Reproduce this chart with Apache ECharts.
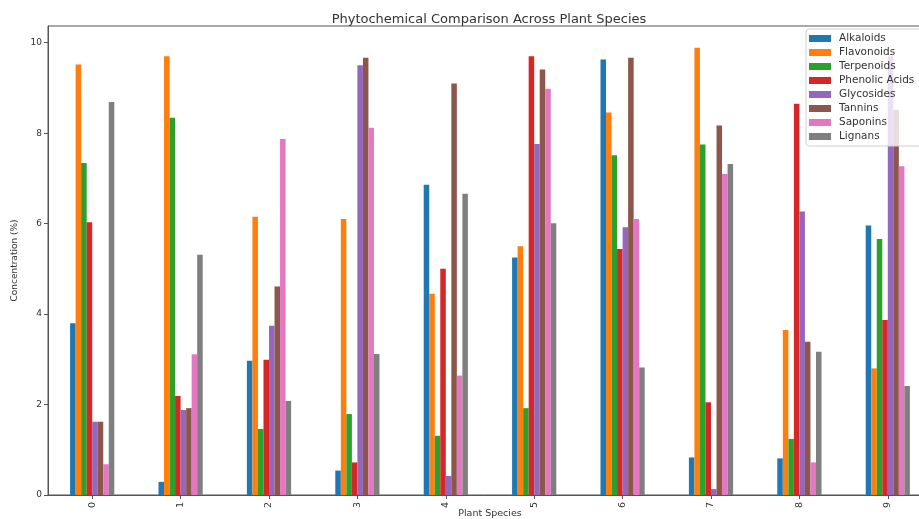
<!DOCTYPE html>
<html>
<head>
<meta charset="utf-8">
<script src="https://cdn.jsdelivr.net/npm/echarts@6/dist/echarts.min.js"></script>
<style>
  html, body { margin: 0; padding: 0; background: #fff; overflow: hidden; }
  #chart { width: 919px; height: 519px; }
</style>
</head>
<body>
<div id="chart"></div>
<script>
const species = ["0", "1", "2", "3", "4", "5", "6", "7", "8", "9"];
const yTicks = [0, 2, 4, 6, 8, 10];

const alkaloids     = [3.80, 0.29, 2.97, 0.54, 6.86, 5.25, 9.63, 0.83, 0.81, 5.96];
const flavonoids    = [9.52, 9.70, 6.15, 6.10, 4.45, 5.50, 8.46, 9.89, 3.65, 2.80];
const terpenoids    = [7.34, 8.34, 1.46, 1.79, 1.31, 1.92, 7.51, 7.75, 1.24, 5.66];
const phenolicAcids = [6.03, 2.19, 2.99, 0.72, 5.00, 9.70, 5.44, 2.05, 8.65, 3.87];
const glycosides    = [1.62, 1.88, 3.74, 9.50, 0.42, 7.76, 5.92, 0.13, 6.27, 9.70];
const tannins       = [1.62, 1.92, 4.61, 9.67, 9.10, 9.41, 9.67, 8.17, 3.39, 8.52];
const saponins      = [0.68, 3.11, 7.87, 8.12, 2.64, 8.98, 6.10, 7.10, 0.72, 7.27];
const lignans       = [8.69, 5.31, 2.08, 3.12, 6.66, 6.01, 2.82, 7.32, 3.17, 2.41];

const seriesNames = ["Alkaloids", "Flavonoids", "Terpenoids", "Phenolic Acids", "Glycosides", "Tannins", "Saponins", "Lignans"];
const seriesData = [alkaloids, flavonoids, terpenoids, phenolicAcids, glycosides, tannins, saponins, lignans];
const colors = ["#1f77b4", "#ff7f0e", "#2ca02c", "#d62728", "#9467bd", "#8c564b", "#e377c2", "#7f7f7f"];

const font = "DejaVu Sans";
const chart = echarts.init(document.getElementById("chart"));

const option = {
  animation: false,
  color: colors,
  textStyle: { fontFamily: font },
  title: {
    text: "Phytochemical Comparison Across Plant Species",
    left: 484,
    textAlign: "center",
    top: 8,
    textStyle: { fontFamily: font, fontSize: 13, fontWeight: "normal", color: "#333" }
  },
  legend: {
    orient: "vertical",
    left: 806,
    top: 29,
    itemWidth: 22,
    itemHeight: 7,
    itemGap: 3,
    padding: [4, 8, 4, 3],
    backgroundColor: "rgba(255,255,255,0.8)",
    borderColor: "#d0d0d0",
    borderWidth: 1,
    borderRadius: 3,
    z: 10,
    icon: "rect",
    textStyle: { fontFamily: font, fontSize: 10.5, lineHeight: 11, color: "#333", padding: [0, 0, 0, 3] },
    data: seriesNames
  },
  // plot area runs past the right edge of the picture (as in the reference)
  grid: {
    left: 48,
    top: 26,
    width: 884,
    height: 469,
    outerBoundsMode: "none",
    show: true,
    borderColor: "#555",
    borderWidth: 1
  },
  xAxis: {
    type: "category",
    data: species,
    name: "Plant Species",
    nameLocation: "middle",
    nameGap: 14,
    nameMoveOverlap: false,
    nameTextStyle: { fontFamily: font, fontSize: 9.5, color: "#333" },
    axisLine: { show: true, lineStyle: { color: "#555" } },
    axisTick: { show: true, alignWithLabel: true, length: 4, lineStyle: { color: "#555" } },
    axisLabel: { rotate: 90, fontFamily: font, fontSize: 9.5, color: "#333", margin: 7 },
    splitLine: { show: false }
  },
  yAxis: {
    type: "value",
    min: 0,
    max: 10.37,
    name: "Concentration (%)",
    nameLocation: "middle",
    nameGap: 24,
    nameTextStyle: { fontFamily: font, fontSize: 9, color: "#333" },
    axisLine: { show: true, lineStyle: { color: "#555" } },
    axisTick: { show: true, length: 4, customValues: yTicks, lineStyle: { color: "#555" } },
    axisLabel: { fontFamily: font, fontSize: 9, color: "#333", margin: 6, customValues: yTicks },
    splitLine: { show: false }
  },
  series: seriesNames.map((name, i) => ({
    name: name,
    type: "bar",
    data: seriesData[i],
    barWidth: "6.25%",
    barGap: "0%",
    itemStyle: { color: colors[i] }
  }))
};

chart.setOption(option);
window.addEventListener("resize", () => {
  chart.resize();
});
</script>
</body>
</html>
